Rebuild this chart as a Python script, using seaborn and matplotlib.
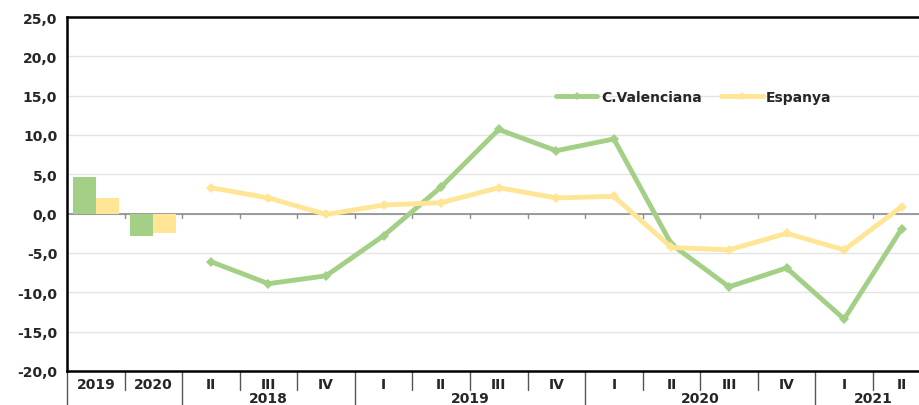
import seaborn as sns
import matplotlib.pyplot as plt
import matplotlib.transforms as mtransforms
from matplotlib.lines import Line2D
import pandas as pd

# annual bars
years = ["2019", "2020"]
cv_year = [4.7, -2.9]
es_year = [2.0, -2.4]

# quarterly lines, 2018 II .. 2021 II
quarters = ["II", "III", "IV", "I", "II", "III", "IV", "I", "II", "III", "IV", "I", "II"]
cv_q = [-6.1, -8.9, -7.9, -2.8, 3.4, 10.7, 8.0, 9.5, -3.9, -9.3, -6.9, -13.4, -1.9]
es_q = [3.3, 2.0, -0.1, 1.1, 1.4, 3.3, 2.0, 2.2, -4.3, -4.6, -2.5, -4.6, 0.9]
year_groups = [("2018", 2, 4), ("2019", 5, 8), ("2020", 9, 12), ("2021", 13, 14)]

series = ["C.Valenciana", "Espanya"]
green = "#a3cf86"
yellow = "#ffe596"
pal = {series[0]: green, series[1]: yellow}

sns.set_theme(style="white")
plt.rcParams['font.family'] = ['DejaVu Sans']

bars = pd.DataFrame({
    "cat": years * 2,
    "val": cv_year + es_year,
    "serie": [series[0]] * 2 + [series[1]] * 2,
})
lines = pd.DataFrame({
    "pos": list(range(2, 2 + len(quarters))) * 2,
    "val": cv_q + es_q,
    "serie": [series[0]] * len(quarters) + [series[1]] * len(quarters),
})

fig = plt.figure(figsize=(9.19, 4.06), dpi=100)
ax = fig.add_axes([67 / 919, 34 / 406, 1 - 67 / 919, 354 / 406])

for y in range(-15, 25, 5):
    ax.axhline(y, color="#e4e4e4", lw=1, zorder=0)
ax.axhline(0, color="#8c8c8c", lw=1.2, zorder=1)

sns.barplot(data=bars, x="cat", y="val", hue="serie", palette=pal, order=years,
            width=0.8, saturation=1, linewidth=0, edgecolor="none",
            ax=ax, legend=False, zorder=2)
sns.lineplot(data=lines, x="pos", y="val", hue="serie", palette=pal, ax=ax,
             marker="D", markersize=5, markeredgewidth=0, linewidth=3.5,
             legend=False, zorder=3)

ax.set_xlim(-0.5, 14.3)
ax.set_ylim(-20, 25)
ax.set_yticks(range(-20, 30, 5))
ax.set_yticklabels([f"{v},0" for v in range(-20, 30, 5)], fontsize=10, fontweight="bold")
ax.tick_params(axis="y", length=0, pad=7)
ax.set_xlabel("")
ax.set_ylabel("")

labels = years + quarters
ax.set_xticks(range(len(labels)))
ax.set_xticklabels(labels, fontsize=10, fontweight="bold")
ax.tick_params(axis="x", length=0, pad=4)

for s in ["left", "bottom", "top"]:
    ax.spines[s].set_color("black")
    ax.spines[s].set_linewidth(1.8)
ax.spines["right"].set_visible(False)

# small ticks on the zero line
for k in range(len(labels)):
    ax.plot([k + 0.5, k + 0.5], [0, -0.5], color="#8c8c8c", lw=1, zorder=1)

# category separators below the axis
trans = mtransforms.blended_transform_factory(ax.transData, ax.transAxes)
long_seps = [-0.5, 1.5, 4.5, 8.5, 12.5]
for k in range(len(labels)):
    b = k - 0.5
    low = -0.11 if b in long_seps else -0.055
    ax.plot([b, b], [0, low], color="#555555", lw=1, transform=trans, clip_on=False)
for name, a, b in year_groups:
    ax.text((a + b) / 2, -0.075, name, transform=trans, ha="center", va="center",
            fontsize=10, fontweight="bold")

handles = [Line2D([], [], color=pal[s], lw=3.5, marker="D", markersize=4,
                  markeredgewidth=0) for s in series]
leg = ax.legend(handles, series, loc="upper left", bbox_to_anchor=(0.559, 0.83),
                frameon=False, ncol=2, handlelength=3.0, handletextpad=0.25,
                columnspacing=1.4, prop={"weight": "bold", "size": 10})

fig.savefig("out.png", dpi=100)
